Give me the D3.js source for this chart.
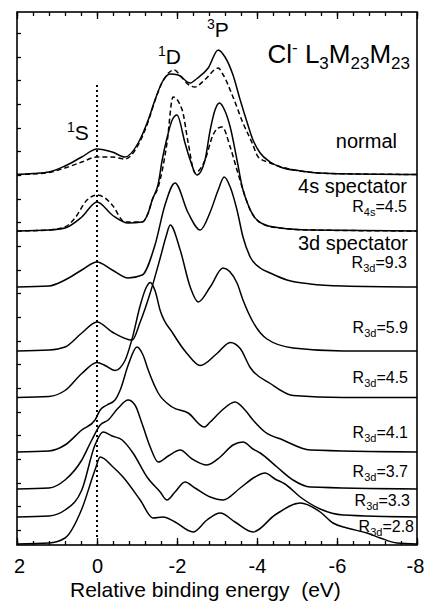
<!DOCTYPE html>
<html>
<head>
<meta charset="utf-8">
<script src="https://cdn.jsdelivr.net/npm/d3@7/dist/d3.min.js"></script>
<style>
  body { margin: 0; background: #fff; }
  text { font-family: "Liberation Sans", Arial, sans-serif; fill: #000; white-space: pre; }
</style>
</head>
<body>
<div id="chart"></div>
<script>

const WIDTH = 425;
const HEIGHT = 605;

// Plot frame (px).
const FRAME = {'left': 17, 'right': 417, 'top': 12, 'bottom': 545};

// Relative binding energy axis (eV), drawn high -> low.
const X_DOMAIN = [2, -8];
const X_MAJOR = [2, 0, -2, -4, -6, -8];
const X_MINOR = [2, 1.6, 1.2, 0.8, 0.4, 0, -0.4, -0.8, -1.2, -1.6, -2, -2.4, -2.8, -3.2, -3.6,
                 -4, -4.4, -4.8, -5.2, -5.6, -6, -6.4, -6.8, -7.2, -7.6, -8];

// Intensity, arbitrary units (stacked spectra).
const Y_DOMAIN = [0, 533];
const Y_TICKS = [512, 488, 465, 441, 417, 394, 370, 346, 323, 299, 275, 252, 228, 204, 181, 157, 133, 110, 86, 62, 39, 15];

// [energy eV, intensity].
const NORMAL_SOLID = [[2,0],[1.6,1],[1.2,2.5],[0.8,8.5],[0.38,17.5],[0,25.5],[-0.38,22.5],[-0.7,17.5],[-1.03,31.5],
  [-1.28,54.5],[-1.45,74.5],[-1.63,92.5],[-1.83,100.5],[-2.03,99.5],[-2.33,91.5],[-2.5,96],[-2.78,106.5],
  [-3.03,124.5],[-3.2,117.5],[-3.4,99.5],[-3.58,74.5],[-3.75,52.5],[-3.9,34.5],[-4.08,21.5],[-4.33,12.5],
  [-4.58,7.5],[-5.08,3.5],[-5.83,1],[-8,0]];
const NORMAL_DASHED = [[2,0],[1.6,0.5],[1.2,2],[0.8,6.5],[0.38,12.5],[0,17.5],[-0.38,17.5],[-0.7,15.5],[-1.03,29.5],
  [-1.28,53],[-1.45,74],[-1.63,92],[-1.83,103],[-1.93,104.5],[-2.1,98],[-2.3,89.5],[-2.45,87.5],[-2.7,95],
  [-3.03,106.5],[-3.15,100],[-3.4,77.5],[-3.65,51.5],[-3.88,31.5],[-4.03,17.5],[-4.33,11.5],[-5.08,3.5],[-5.83,1],[-8,0]];
const S4_SOLID = [[2,0],[1.2,1],[0.8,3],[0.38,14],[0,29],[-0.38,16],[-0.78,8],[-1.13,9],[-1.28,18],[-1.38,31],
  [-1.53,47],[-1.63,71],[-1.75,93],[-1.88,111],[-2.0,116],[-2.2,88],[-2.33,71],[-2.5,56],[-2.7,71],[-2.83,101],
  [-2.95,121],[-3.06,128],[-3.2,120],[-3.33,104],[-3.5,71],[-3.63,44],[-3.78,26],[-3.9,16],[-4.15,7],[-4.58,3],
  [-5.33,1],[-8,0]];
const S4_DASHED = [[2,0],[1.2,1],[0.8,4],[0.55,13],[0.25,31],[0,36],[-0.2,33],[-0.38,26],[-0.7,9],[-1.13,9],
  [-1.28,18],[-1.38,31],[-1.53,44],[-1.75,88],[-1.9,134],[-2.13,121],[-2.28,88],[-2.45,58],[-2.7,71],[-2.9,96],
  [-3.03,103],[-3.13,104],[-3.33,84],[-3.5,61],[-3.65,41],[-3.83,21],[-4.0,11],[-4.2,6],[-4.58,3],[-5.33,1],[-8,0]];
const R93 = [[2,0],[1.2,1],[0.8,7],[0.38,17],[0,25],[-0.38,17],[-0.78,9],[-1.13,12],[-1.45,42],[-1.7,82],
  [-1.95,104],[-2.28,74],[-2.58,57],[-2.83,75],[-3.03,97],[-3.18,110],[-3.33,100],[-3.5,77],[-3.65,50],[-3.83,30],
  [-4.08,19],[-4.33,14],[-4.75,7],[-5.33,3],[-6.15,1],[-8,0]];
const R59 = [[2,0],[1.2,1],[0.8,4],[0.38,18],[0,29],[-0.38,19],[-0.88,11],[-1.08,29],[-1.33,58],[-1.58,93],
  [-1.73,115],[-1.83,126],[-2.08,101],[-2.33,64],[-2.53,49],[-2.83,64],[-3.15,83],[-3.5,68],[-3.65,51],[-3.9,29],
  [-4.25,12],[-4.9,3],[-6.15,0],[-8,0]];
const R45 = [[2,0],[1.2,1],[0.8,7],[0.38,24],[0,35],[-0.2,32],[-0.45,27],[-0.7,37],[-0.88,59],[-1.08,92],
  [-1.23,110],[-1.33,115],[-1.45,107],[-1.58,87],[-1.9,64],[-2.25,44],[-2.58,32],[-3.0,44],[-3.33,55],[-3.58,49],
  [-3.83,30],[-4.33,14],[-4.9,2],[-6.15,0],[-8,0]];
const R41 = [[2,0],[1.2,1],[0.8,7],[0.38,22],[0.05,32],[-0.08,42],[-0.25,47],[-0.45,52],[-0.58,62],[-0.78,87],
  [-1.0,105],[-1.15,97],[-1.28,82],[-1.53,59],[-1.88,45],[-2.28,39],[-2.68,25],[-2.83,30],[-3.08,40],[-3.45,50],
  [-3.7,42],[-3.9,32],[-4.2,20],[-4.65,12],[-5.33,2],[-8,0]];
const R37 = [[2,0],[1.2,1],[0.8,9],[0.38,29],[0.13,49],[-0.08,64],[-0.28,69],[-0.53,81],[-0.78,89],[-0.95,84],
  [-1.13,65],[-1.33,42],[-1.53,27],[-1.78,33],[-2.08,39],[-2.38,30],[-2.75,24],[-3.08,32],[-3.4,44],[-3.65,47],
  [-3.9,40],[-4.08,36],[-4.5,22],[-4.9,9],[-5.33,2],[-8,0]];
const R33 = [[2,0],[1.2,1],[0.8,7],[0.38,27],[0.05,72],[-0.15,85],[-0.38,81],[-0.63,77],[-0.9,64],[-1.25,40],
  [-1.58,25],[-1.75,17],[-1.95,25],[-2.2,35],[-2.45,29],[-2.83,20],[-3.15,17],[-3.58,29],[-3.95,40],[-4.2,44],
  [-4.45,38],[-4.7,33],[-5.08,20],[-5.58,8],[-6.15,2],[-8,0]];
const R28 = [[2,0],[1.2,1],[0.8,6],[0.38,35],[0.05,74],[-0.08,87],[-0.4,77],[-0.65,67],[-1.08,44],[-1.4,26],
  [-1.65,27],[-1.95,22],[-2.4,12],[-2.75,24],[-3.08,31],[-3.45,22],[-3.9,12],[-4.45,29],[-5.08,41],[-5.58,32],
  [-5.9,21],[-6.25,16],[-6.75,11],[-7.08,6],[-7.5,1],[-8,0]];

// Vertical offsets of the stacked spectra (same units).
const OFFSETS = [370.5, 370.5, 314, 314, 258, 194, 147.5, 93, 56, 28, 1];
const SPECTRA = [NORMAL_SOLID, NORMAL_DASHED, S4_SOLID, S4_DASHED, R93, R59, R45, R41, R37, R33, R28];
const DASHED = [false, true, false, true, false, false, false, false, false, false, false];

// Dotted marker at 0 eV, intensity extent.
const ZERO_LINE = {'energy': 0, 'from': 7, 'to': 460};

// Text.
const GROUP_LABELS = ["normal", "4s spectator", "3d spectator"];
const R_SUBS = ["4s", "3d", "3d", "3d", "3d", "3d", "3d", "3d"];
const R_VALUES = ["4.5", "9.3", "5.9", "4.5", "4.1", "3.7", "3.3", "2.8"];
const X_TITLE = "Relative binding energy  (eV)";

// Label placement (px): right edge, baseline.
const GROUP_POS = [[397, 148], [407, 193], [408, 250]];
const R_POS = [[407, 212], [407, 268], [408, 333], [408, 383], [408, 438], [408, 477], [410, 506], [414, 532]];


window.onload = function() {

    var svg = d3.select("#chart").append("svg")
                .attr("width", WIDTH)
                .attr("height", HEIGHT);

    var x = d3.scaleLinear().domain(X_DOMAIN).range([FRAME.left, FRAME.right]);
    var y = d3.scaleLinear().domain(Y_DOMAIN).range([FRAME.bottom, FRAME.top]);

    // Axes, ticks inward.
    var fmt = function (d) { return d3.format("d")(d).replace("\u2212", "-"); };

    svg.append("g").attr("transform", "translate(0," + FRAME.bottom + ")")
       .call(d3.axisBottom(x).tickValues(X_MINOR).tickSize(-4).tickFormat(""));
    svg.append("g").attr("transform", "translate(0," + FRAME.bottom + ")")
       .attr("class", "xmajor")
       .call(d3.axisBottom(x).tickValues(X_MAJOR).tickSize(-7).tickPadding(14).tickFormat(fmt));
    svg.append("g").attr("transform", "translate(0," + FRAME.top + ")")
       .call(d3.axisTop(x).tickValues(X_MINOR).tickSize(-4).tickFormat(""));
    svg.append("g").attr("transform", "translate(0," + FRAME.top + ")")
       .call(d3.axisTop(x).tickValues(X_MAJOR).tickSize(-7).tickFormat(""));
    svg.append("g").attr("transform", "translate(" + FRAME.left + ",0)")
       .call(d3.axisLeft(y).tickValues(Y_TICKS).tickSize(-4).tickFormat(""));

    svg.selectAll(".domain").remove();
    svg.selectAll(".tick line").attr("stroke", "#000").attr("stroke-width", 1.3);
    svg.selectAll(".xmajor text")
       .attr("font-size", "20px")
       .attr("font-family", "Liberation Sans, Arial, sans-serif")
       .attr("fill", "#000")
       .attr("dx", function (d) { return d === X_DOMAIN[1] ? -2 : (d === X_DOMAIN[0] ? 2 : 0); });

    // Frame.
    svg.append("rect")
       .attr("x", FRAME.left).attr("y", FRAME.top)
       .attr("width", FRAME.right - FRAME.left)
       .attr("height", FRAME.bottom - FRAME.top)
       .attr("fill", "none")
       .attr("stroke", "#000")
       .attr("stroke-width", 1.6);

    // Dotted 0 eV marker.
    svg.append("line")
       .attr("x1", x(ZERO_LINE.energy)).attr("x2", x(ZERO_LINE.energy))
       .attr("y1", y(ZERO_LINE.to)).attr("y2", y(ZERO_LINE.from))
       .attr("stroke", "#000")
       .attr("stroke-width", 2)
       .attr("stroke-dasharray", "2,3");

    // Spectra.
    SPECTRA.forEach(function (data, i) {
        var line = d3.line()
                     .x(function (d) { return x(d[0]); })
                     .y(function (d) { return y(d[1] + OFFSETS[i]); })
                     .curve(d3.curveMonotoneX);
        svg.append("path")
           .attr("d", line(data))
           .attr("fill", "none")
           .attr("stroke", "#000")
           .attr("stroke-width", 1.5)
           .attr("stroke-dasharray", DASHED[i] ? "5,3" : null);
    });

    // Text helper: parts = [text, size, dy].
    function rich(px, py, anchor, parts) {
        var t = svg.append("text").attr("x", px).attr("y", py).attr("text-anchor", anchor);
        parts.forEach(function (p) {
            t.append("tspan").attr("font-size", p[1] + "px").attr("dy", p[2]).text(p[0]);
        });
        return t;
    }

    rich(410, 63, "end", [["Cl", 26, 0], ["-", 17, -10], [" L", 26, 10], ["3", 17, 6], ["M", 26, -6],
                           ["23", 17, 6], ["M", 26, -6], ["23", 17, 6]]);
    rich(67, 140, "start", [["1", 14, -8], ["S", 21, 8]]);
    rich(158, 64, "start", [["1", 14, -8], ["D", 21, 8]]);
    rich(207, 37, "start", [["3", 14, -8], ["P", 21, 8]]);

    GROUP_LABELS.forEach(function (s, i) {
        rich(GROUP_POS[i][0], GROUP_POS[i][1], "end", [[s, 20, 0]]);
    });
    R_VALUES.forEach(function (v, i) {
        rich(R_POS[i][0], R_POS[i][1], "end", [["R", 16, 0], [R_SUBS[i], 11, 4], ["=" + v, 16, -4]]);
    });

    svg.append("text")
       .attr("x", 70).attr("y", 597)
       .attr("font-size", "21px")
       .text(X_TITLE);
};
</script>
</body>
</html>
